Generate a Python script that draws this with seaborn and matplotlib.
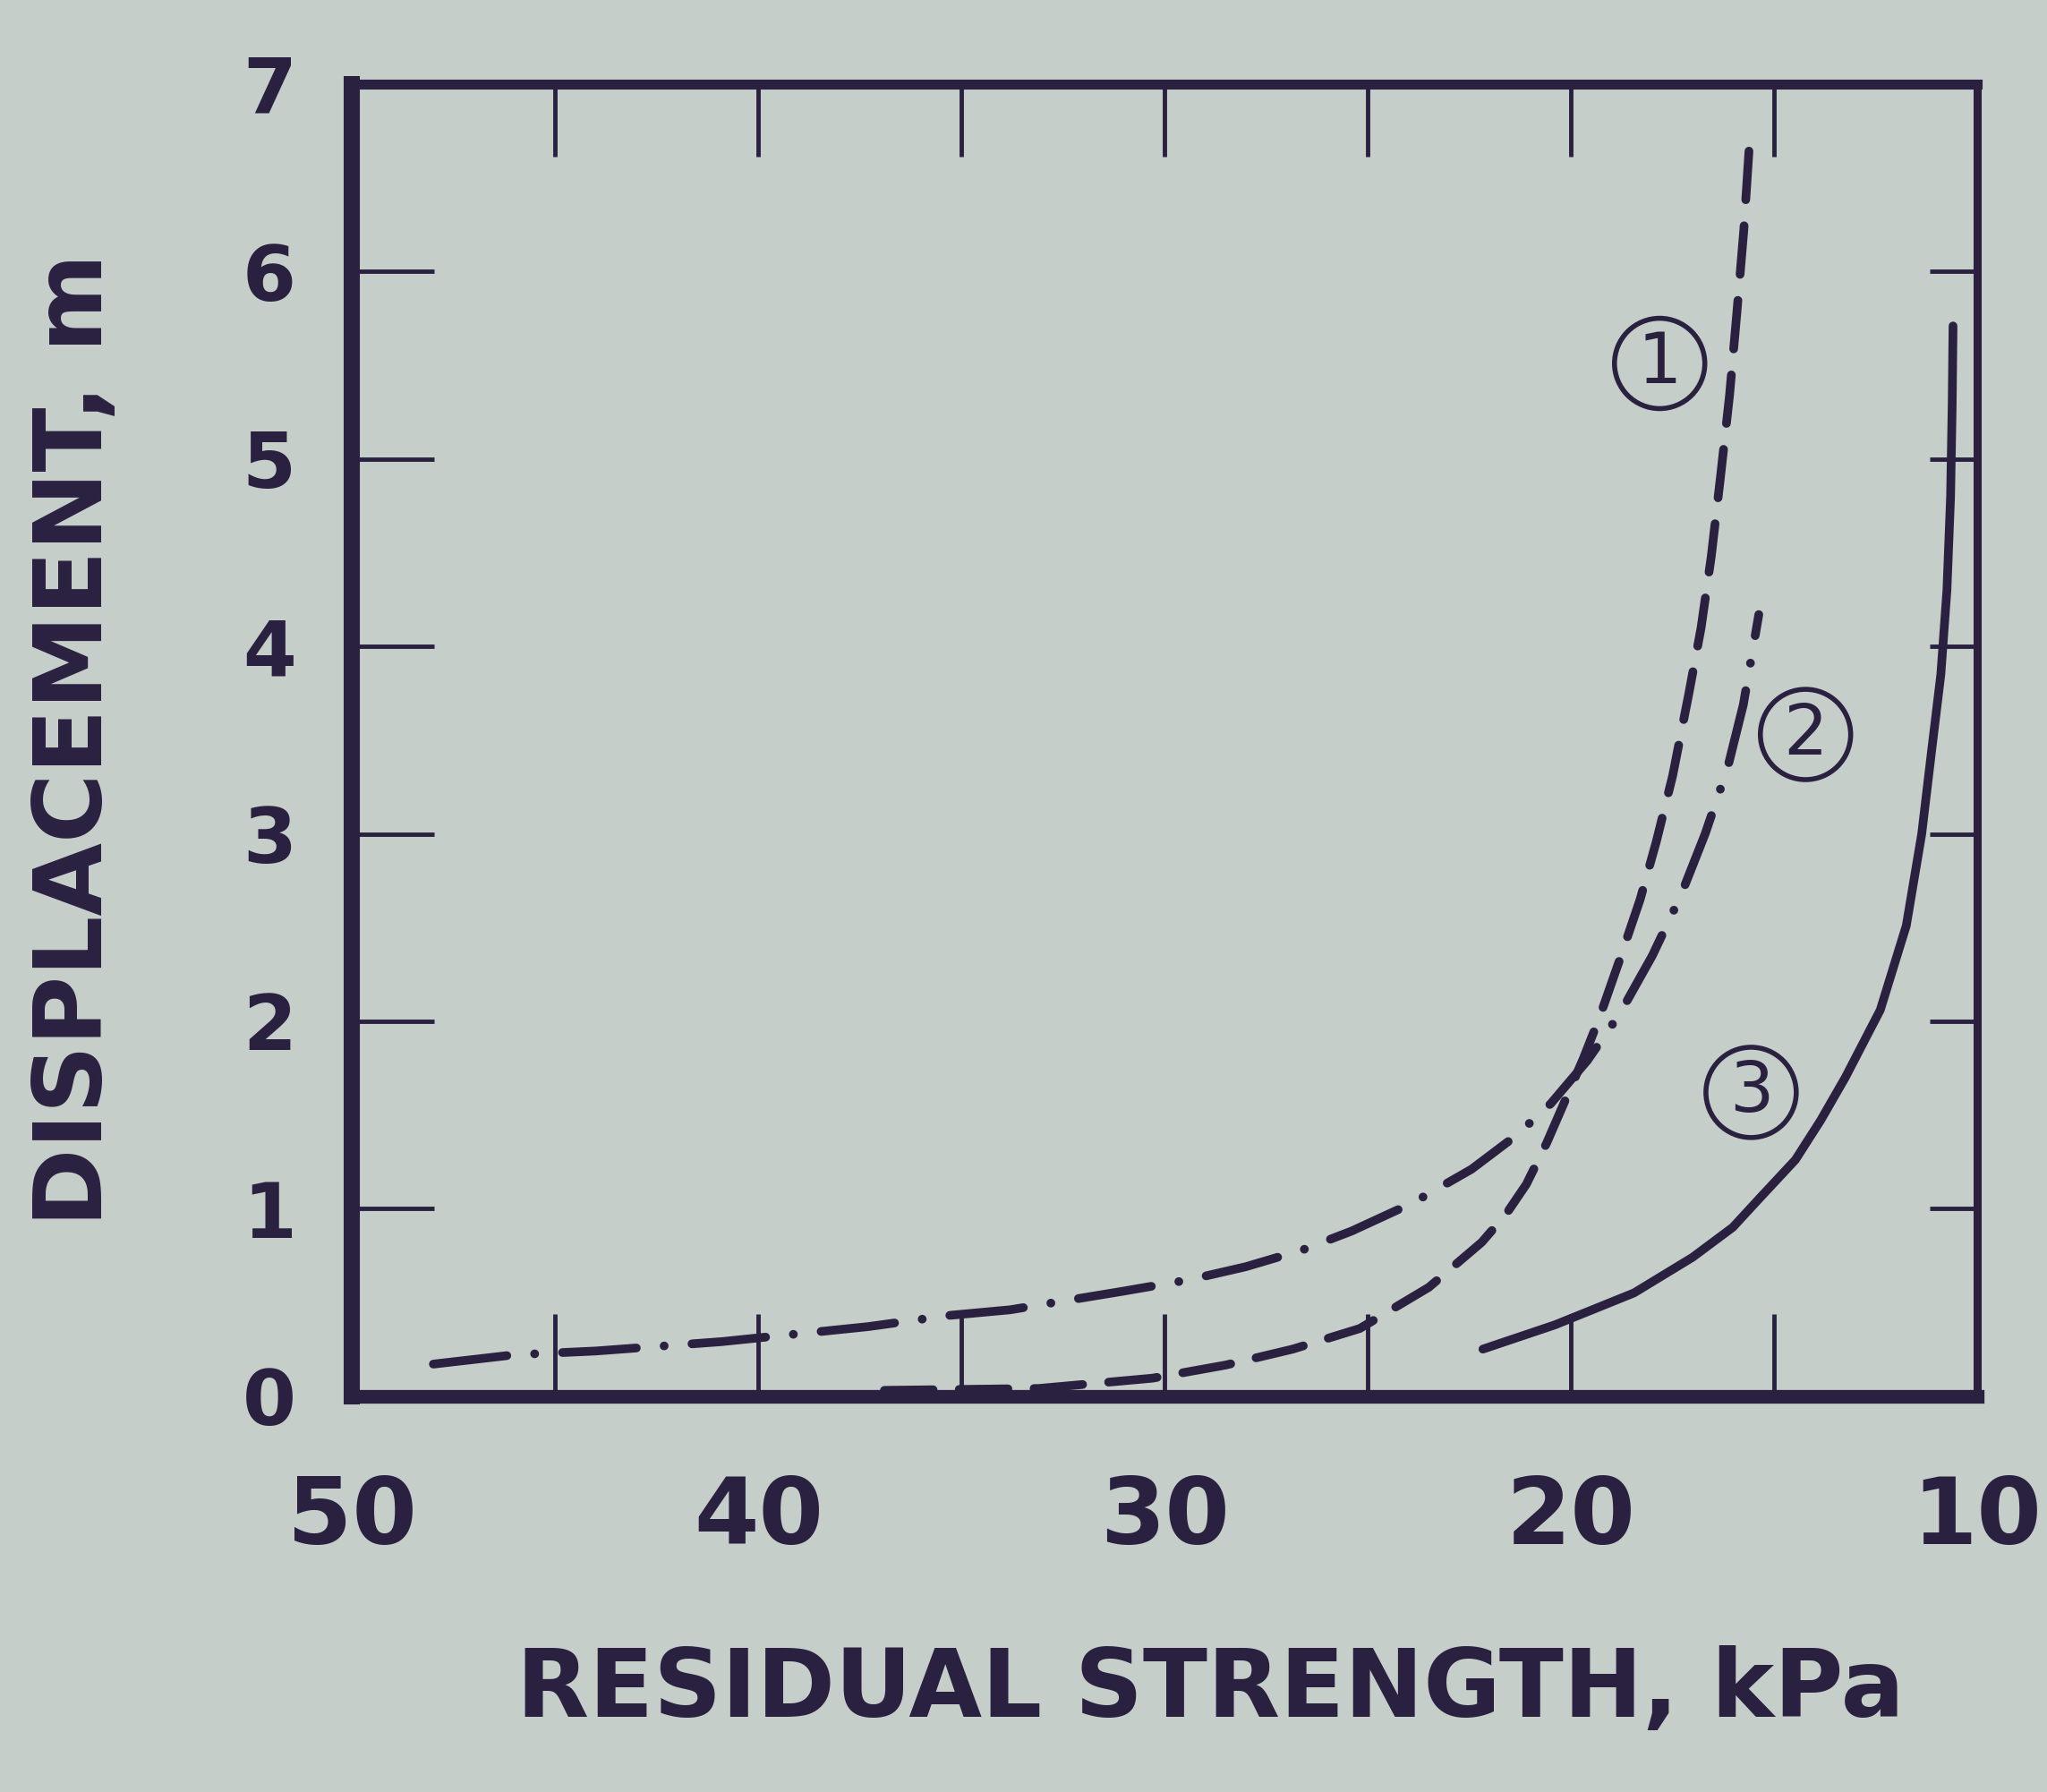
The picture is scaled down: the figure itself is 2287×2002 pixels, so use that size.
import matplotlib
matplotlib.use('Agg')
import matplotlib.pyplot as plt
import seaborn as sns
import pandas as pd


# curve 1 - dashed
x1 = [36.9, 33.1, 30.3, 28.5, 26.85, 25.2, 23.5, 22.2, 21.6, 21.1, 20.6, 20.14, 19.7, 19.3,
      18.8, 18.3, 17.9, 17.5, 17.1, 16.8, 16.55, 16.32, 16.1, 15.92, 15.75, 15.59]
y1 = [0.03, 0.04, 0.095, 0.165, 0.25, 0.36, 0.58, 0.82, 0.97, 1.13, 1.35, 1.58, 1.80, 2.02,
      2.33, 2.65, 2.96, 3.31, 3.75, 4.1, 4.48, 4.91, 5.34, 5.78, 6.22, 6.75]

# curve 2 - dash dot
x2 = [48.0, 46.0, 44.0, 40.9, 39.1, 37.3, 35.3, 33.8, 32.4, 31.0, 29.4, 28.0, 26.6, 25.4,
      23.9, 22.45, 21.35, 20.5, 19.6, 18.8, 18.0, 17.3, 16.7, 16.15, 15.76, 15.38]
y2 = [0.17, 0.22, 0.24, 0.29, 0.33, 0.37, 0.43, 0.46, 0.51, 0.56, 0.62, 0.69, 0.78, 0.88,
      1.03, 1.21, 1.39, 1.56, 1.79, 2.04, 2.35, 2.67, 3.0, 3.35, 3.69, 4.17]

# curve 3 - solid
x3 = [22.17, 20.39, 18.45, 17.01, 16.02, 15.34, 14.48, 13.86, 13.25, 12.39, 11.75, 11.37,
      11.14, 10.9, 10.75, 10.66, 10.62, 10.6]
y3 = [0.25, 0.38, 0.55, 0.74, 0.90, 1.06, 1.26, 1.47, 1.70, 2.06, 2.51, 3.0,
      3.42, 3.85, 4.3, 4.8, 5.3, 5.71]

curve_labels = ['1', '2', '3']
label_x = [17.82, 14.23, 15.57]
label_y = [5.51, 3.53, 1.62]

x_ticks = [50, 40, 30, 20, 10]
x_minor = [45, 35, 25, 15]
y_ticks = [0, 1, 2, 3, 4, 5, 6, 7]
y_inner = [1, 2, 3, 4, 5, 6]

ink = '#2a2140'
paper = '#c5cec9'

sns.set_style('ticks')
plt.rcParams['font.family'] = ['DejaVu Sans']

fig = plt.figure(figsize=(22.87, 20.02), dpi=100, facecolor=paper)
ax = fig.add_axes([0.172, 0.221, 0.794, 0.732])
ax.set_facecolor(paper)

df1 = pd.DataFrame({'x': x1, 'y': y1})
df2 = pd.DataFrame({'x': x2, 'y': y2})
df3 = pd.DataFrame({'x': x3, 'y': y3})

sns.lineplot(data=df1, x='x', y='y', sort=False, color=ink, linewidth=7, ax=ax)
ax.lines[-1].set_dashes((5.6, 3.0))
sns.lineplot(data=df2, x='x', y='y', sort=False, color=ink, linewidth=7, ax=ax)
ax.lines[-1].set_dashes((8.5, 3.2, 0.01, 3.2))
sns.lineplot(data=df3, x='x', y='y', sort=False, color=ink, linewidth=7, ax=ax)
for ln in ax.lines:
    ln.set_linewidth(7)
    ln.set_dash_capstyle('round')
    ln.set_solid_capstyle('round')
    ln.set_solid_joinstyle('round')
    ln.set_dash_joinstyle('round')

# circled curve numbers
for t, xx, yy in zip(curve_labels, label_x, label_y):
    ax.text(xx, yy, t, fontsize=56, color=ink, ha='center', va='center',
            bbox=dict(boxstyle='circle,pad=0.16', fc='none', ec=ink, lw=4))

ax.set_xlim(50, 10)
ax.set_ylim(0, 7)
ax.set_xticks(x_ticks)
ax.set_xticks(x_minor, minor=True)
ax.set_yticks(y_ticks)

for s in ax.spines.values():
    s.set_color(ink)
ax.spines['left'].set_linewidth(13)
ax.spines['bottom'].set_linewidth(11)
ax.spines['top'].set_linewidth(8)
ax.spines['right'].set_linewidth(6.5)

ax.tick_params(axis='both', which='both', direction='in', length=66, width=3.5, color=ink)
ax.tick_params(axis='x', labelsize=75, labelcolor=ink, pad=62)
ax.tick_params(axis='y', labelsize=62, labelcolor=ink, pad=45)
for lab in ax.get_xticklabels() + ax.get_yticklabels():
    lab.set_fontweight('bold')

# top and right ticks are a little shorter in the original
top = ax.secondary_xaxis('top')
top.set_xticks(x_ticks[1:-1] + x_minor)
top.tick_params(direction='in', length=58, width=3.5, color=ink, labeltop=False)
top.spines['top'].set_visible(False)
right = ax.secondary_yaxis('right')
right.set_yticks(y_inner)
right.tick_params(direction='in', length=38, width=3.5, color=ink, labelright=False)
right.spines['right'].set_visible(False)

ax.set_xlabel('RESIDUAL STRENGTH, kPa', fontsize=76, fontweight='bold', color=ink)
ax.xaxis.set_label_coords(0.528, -0.19)
ax.set_ylabel('DISPLACEMENT, m', fontsize=76, fontweight='bold', color=ink)
ax.yaxis.set_label_coords(-0.142, 0.5)

plt.savefig('out.png', dpi=100, facecolor=paper)
